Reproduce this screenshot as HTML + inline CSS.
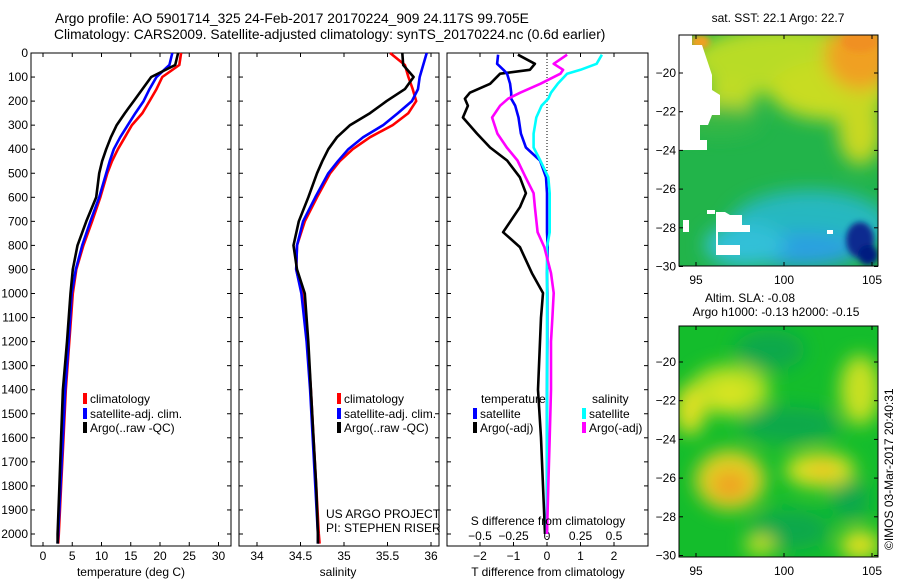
<!DOCTYPE html>
<html><head><meta charset="utf-8">
<style>
body{margin:0;background:#fff;}
svg{display:block;font-family:"Liberation Sans",sans-serif;font-size:12px;}
</style></head>
<body>
<svg id="chart" width="900" height="580" viewBox="0 0 900 580" xmlns="http://www.w3.org/2000/svg">
<defs>
<filter id="blur" x="-50%" y="-50%" width="200%" height="200%"><feGaussianBlur stdDeviation="9"/></filter>
<filter id="blur2" x="-50%" y="-50%" width="200%" height="200%"><feGaussianBlur stdDeviation="3"/></filter>
<clipPath id="clipSST"><rect x="679" y="35" width="199" height="231"/></clipPath>
<clipPath id="clipSLA"><rect x="679" y="326" width="199" height="231"/></clipPath>
</defs>
<text x="55" y="23" font-size="13.8">Argo profile: AO 5901714_325 24-Feb-2017 20170224_909 24.117S 99.705E</text>
<text x="54" y="39" font-size="13.8">Climatology: CARS2009. Satellite-adjusted climatology: synTS_20170224.nc (0.6d earlier)</text>
<g id="plots"></g>

<!-- SST map -->
<text x="778" y="22" text-anchor="middle">sat. SST: 22.1 Argo: 22.7</text>
<g clip-path="url(#clipSST)">
<rect x="679" y="35" width="199" height="231" fill="#22b44a"/>
<g filter="url(#blur)">
<ellipse cx="790" cy="60" rx="100" ry="35" fill="#b8dc28"/>
<ellipse cx="830" cy="90" rx="60" ry="30" fill="#c8dc24"/>
<ellipse cx="860" cy="55" rx="35" ry="35" fill="#f0a024"/>
<ellipse cx="860" cy="130" rx="22" ry="35" fill="#c8d824"/>
<ellipse cx="730" cy="95" rx="25" ry="18" fill="#c0dc28"/>
<ellipse cx="810" cy="225" rx="80" ry="35" fill="#28b8c0"/>
<ellipse cx="800" cy="250" rx="60" ry="18" fill="#2aa0e0"/>
<ellipse cx="745" cy="245" rx="40" ry="22" fill="#30c0d8"/>
<ellipse cx="720" cy="120" rx="40" ry="15" fill="#38b844"/>
</g>
<g filter="url(#blur2)">
<ellipse cx="860" cy="240" rx="14" ry="18" fill="#0a2a90"/>
<ellipse cx="868" cy="255" rx="10" ry="10" fill="#001a80"/>
<ellipse cx="700" cy="42" rx="10" ry="7" fill="#f0a020"/>
<ellipse cx="860" cy="42" rx="18" ry="10" fill="#f09020"/>
</g>
<path d="M679,35 L692,35 L692,45 L702,45 L712,75 L712,90 L720,95 L720,115 L712,115 L708,125 L700,125 L700,140 L692,140 L690,150 L679,150 Z" fill="#fff"/>
<rect x="679" y="140" width="28" height="10" fill="#fff"/>
<path d="M716,212 L725,212 L730,215 L742,215 L742,225 L750,225 L750,232 L718,232 L718,245 L740,245 L740,255 L716,255 Z" fill="#fff"/>
<rect x="707" y="210" width="8" height="4" fill="#fff"/>
<rect x="683" y="220" width="6" height="12" fill="#fff"/>
<rect x="827" y="230" width="6" height="4" fill="#fff"/>
</g>
<rect x="679" y="35" width="199" height="231" fill="none" stroke="#000" stroke-width="1"/>
<g id="sstAxes"></g>

<!-- SLA map -->
<text x="750" y="302" text-anchor="middle">Altim. SLA: -0.08</text>
<text x="776" y="316" text-anchor="middle">Argo h1000: -0.13 h2000: -0.15</text>
<g clip-path="url(#clipSLA)">
<rect x="679" y="326" width="199" height="231" fill="#14bd2c"/>
<g filter="url(#blur)">
<ellipse cx="730" cy="390" rx="40" ry="25" fill="#b8e020"/>
<ellipse cx="730" cy="395" rx="20" ry="15" fill="#d8e420"/>
<ellipse cx="690" cy="410" rx="15" ry="25" fill="#e0e020"/>
<ellipse cx="860" cy="390" rx="20" ry="35" fill="#c8e020"/>
<ellipse cx="730" cy="480" rx="35" ry="30" fill="#e0d020"/>
<ellipse cx="730" cy="485" rx="18" ry="14" fill="#f0a020"/>
<ellipse cx="820" cy="470" rx="35" ry="18" fill="#d8e020"/>
<ellipse cx="822" cy="470" rx="14" ry="8" fill="#f0c020"/>
<ellipse cx="770" cy="350" rx="35" ry="20" fill="#10a84c"/>
<ellipse cx="790" cy="425" rx="50" ry="18" fill="#10a84c"/>
<ellipse cx="790" cy="530" rx="40" ry="20" fill="#10a84c"/>
<ellipse cx="850" cy="500" rx="20" ry="20" fill="#10a84c"/>
<ellipse cx="860" cy="545" rx="20" ry="15" fill="#e0e020"/>
<ellipse cx="760" cy="545" rx="15" ry="10" fill="#c8e020"/>
</g>
</g>
<rect x="679" y="326" width="199" height="231" fill="none" stroke="#000" stroke-width="1"/>
<g id="slaAxes"></g>
<text transform="translate(893,550) rotate(-90)" font-size="12">©IMOS 03-Mar-2017 20:40:31</text>
</svg>
<script>
const depths = [0,50,100,150,200,250,300,350,400,450,500,600,700,800,900,1000,1200,1400,1600,1800,2000,2040];
const tempClim = [23.6,23.3,20.4,19.4,18.2,17.0,15.2,14.0,12.8,11.8,11.0,9.8,8.4,6.9,5.7,5.1,4.5,3.9,3.5,3.1,2.7,2.6];
const tempSat  = [22.1,21.6,19.4,18.2,17.2,15.8,14.5,13.2,12.1,11.4,10.8,9.6,8.1,6.7,5.6,4.9,4.4,3.8,3.4,3.0,2.6,2.5];
const tempArgo = [23.1,22.6,18.5,17.0,15.5,14.0,12.6,11.6,10.8,10.1,9.6,9.1,7.4,5.9,5.1,4.7,4.1,3.4,3.1,2.8,2.5,2.5];
const salClim = [35.53,35.70,35.74,35.79,35.83,35.74,35.56,35.30,35.10,34.95,34.84,34.69,34.55,34.46,34.45,34.52,34.58,34.62,34.65,34.68,34.71,34.72];
const salSat  = [35.95,35.91,35.87,35.85,35.78,35.62,35.45,35.22,35.05,34.93,34.82,34.67,34.53,34.46,34.45,34.51,34.57,34.61,34.64,34.67,34.70,34.70];
const salArgo = [35.67,35.68,35.80,35.70,35.49,35.30,35.07,34.92,34.82,34.75,34.69,34.59,34.48,34.42,34.46,34.55,34.59,34.62,34.65,34.68,34.70,34.70];
const diffDepths = [7,45,70,86,128,165,190,219,268,335,393,447,517,583,641,745,807,915,998,1100,1200,1400,1600,1800,2000];
const dTArgo = [-0.87,-0.36,-0.51,-1.40,-1.70,-2.30,-2.45,-2.36,-2.51,-2.09,-1.70,-1.19,-0.81,-0.63,-0.81,-1.31,-0.81,-0.45,-0.12,-0.18,-0.21,-0.27,-0.18,-0.12,-0.06];
const dTSat  = [-1.46,-1.49,-1.30,-1.19,-1.10,-1.07,-1.07,-0.95,-0.85,-0.78,-0.63,-0.21,-0.03,0.0,0.0,0.0,0.02,0.0,0.01,0.01,0.01,0.0,0.0,0.0,0.0];
const dSSat  = [0.41,0.37,0.25,0.15,0.08,0.03,0.01,-0.04,-0.08,-0.10,-0.10,-0.05,0.01,0.02,0.02,0.02,0.0,0.0,0.0,0.0,0.0,0.0,0.0,0.0,0.0];
const dSArgo = [0.15,0.05,0.12,0.10,-0.05,-0.20,-0.29,-0.35,-0.41,-0.37,-0.30,-0.22,-0.16,-0.10,-0.09,-0.07,-0.02,0.03,0.05,0.04,0.03,0.03,0.02,0.01,0.0];
const depthTicks = [0,100,200,300,400,500,600,700,800,900,1000,1100,1200,1300,1400,1500,1600,1700,1800,1900,2000];
const tempTicks = [0,5,10,15,20,25,30];
const salTicks = [34,34.5,35,35.5,36];
const salTickLabels = ['34','34.5','35','35.5','36'];
const dTTicks = [-2,-1,0,1,2];
const dSTicks = [-0.5,-0.25,0,0.25,0.5];
const dSTickLabels = ['\u22120.5','\u22120.25','0','0.25','0.5'];
const latTicks = [-20,-22,-24,-26,-28,-30];
const lonTicks = [95,100,105];

const NS='http://www.w3.org/2000/svg';
const root=document.getElementById('plots');
function mk(tag,attrs,parent){const e=document.createElementNS(NS,tag);for(const k in attrs)e.setAttribute(k,attrs[k]);(parent||root).appendChild(e);return e;}
const yD = d => 53 + d*0.2405;
const PT={l:31,r:231}, PS={l:239,r:439}, PD={l:447,r:648};
const TOP=53, BOT=546;
const xT = t => 43 + t*5.85;
const xS = s => 257 + (s-34)*87;
const xDT = v => 547 + v*33.5;
const xDS = v => 547 + v*134;

function frame(p,name){
  const r=mk('rect',{x:p.l,y:TOP,width:p.r-p.l,height:BOT-TOP,fill:'none',stroke:'#000','stroke-width':1});
  
  
}
frame(PT,'temperature-panel-frame');frame(PS,'salinity-panel-frame');frame(PD,'difference-panel-frame');

depthTicks.forEach(d=>{
  const y=yD(d);
  [PT,PS,PD].forEach(p=>{
    mk('line',{x1:p.l,x2:p.l+4,y1:y,y2:y,stroke:'#000'});
    mk('line',{x1:p.r-4,x2:p.r,y1:y,y2:y,stroke:'#000'});
  });
  const t=mk('text',{x:28,y:y+4,'text-anchor':'end'});
  
  
  t.textContent=d;
});
function xticks(vals,labels,fx,p,name,labY){
  vals.forEach((v,i)=>{
    const x=fx(v);
    mk('line',{x1:x,x2:x,y1:BOT,y2:BOT-4,stroke:'#000'});
    mk('line',{x1:x,x2:x,y1:TOP,y2:TOP+4,stroke:'#000'});
    const t=mk('text',{x:x,y:labY,'text-anchor':'middle'});
    
    
    t.textContent=labels[i];
  });
}
xticks(tempTicks,tempTicks.map(String),xT,PT,'temperature-tick-label',560);
xticks(salTicks,salTickLabels,xS,PS,'salinity-tick-label',560);
xticks(dTTicks,dTTicks.map(v=>v<0?'\u2212'+(-v):String(v)),xDT,PD,'t-diff-tick-label',560);
dSTicks.forEach((v,i)=>{
  const t=mk('text',{x:xDS(v),y:540,'text-anchor':'middle'});
  
  
  t.textContent=dSTickLabels[i];
});
const zl=mk('line',{x1:xDT(0),x2:xDT(0),y1:TOP,y2:BOT,stroke:'#000','stroke-dasharray':'1,2'});



function series(xs,ds,fx,color,name){
  const pts=xs.map((v,i)=>fx(v).toFixed(1)+','+yD(ds[i]).toFixed(1)).join(' ');
  const pl=mk('polyline',{points:pts,fill:'none',stroke:color,'stroke-width':2.6,'stroke-linejoin':'round'});
  
  
}
series(tempClim,depths,xT,'#f00','temperature-climatology-line');
series(tempSat,depths,xT,'#00f','temperature-satellite-line');
series(tempArgo,depths,xT,'#000','temperature-argo-line');
series(salClim,depths,xS,'#f00','salinity-climatology-line');
series(salSat,depths,xS,'#00f','salinity-satellite-line');
series(salArgo,depths,xS,'#000','salinity-argo-line');
series(dTArgo,diffDepths,xDT,'#000','t-diff-argo-line');
series(dTSat,diffDepths,xDT,'#00f','t-diff-satellite-line');
series(dSSat,diffDepths,xDS,'#0ff','s-diff-satellite-line');
series(dSArgo,diffDepths,xDS,'#f0f','s-diff-argo-line');

function txt(x,y,s,name,anchor){const t=mk('text',{x:x,y:y,'text-anchor':anchor||'start'});t.textContent=s;return t;}
function legend(x,y,color,label,name){
  const r=mk('rect',{x:x,y:y-10,width:4,height:11,fill:color});
  
  
  txt(x+7,y,label,name);
}
legend(83,403,'#f00','climatology','legend-climatology');
legend(83,418,'#00f','satellite-adj. clim.','legend-satellite-adj');
legend(83,432,'#000','Argo(..raw -QC)','legend-argo');
legend(337,403,'#f00','climatology','legend2-climatology');
legend(337,418,'#00f','satellite-adj. clim.','legend2-satellite-adj');
legend(337,432,'#000','Argo(..raw -QC)','legend2-argo');
txt(481,403,'temperature','legend-temperature-heading');
txt(592,403,'salinity','legend-salinity-heading');
legend(473,418,'#00f','satellite','legend-t-satellite');
legend(473,432,'#000','Argo(-adj)','legend-t-argo');
legend(582,418,'#0ff','satellite','legend-s-satellite');
legend(582,432,'#f0f','Argo(-adj)','legend-s-argo');
txt(326,518,'US ARGO PROJECT','project-credit');
txt(326,532,'PI: STEPHEN RISER','pi-credit');
txt(548,525,'S difference from climatology','s-diff-axis-title','middle');
txt(131,576,'temperature (deg C)','temperature-axis-title','middle');
txt(338,576,'salinity','salinity-axis-title','middle');
txt(548,576,'T difference from climatology','t-diff-axis-title','middle');

const xLon = v => 696 + (v-95)*17.6;
function mapAxes(top,lat20,gname,labY){
  const g=document.getElementById(gname);
  latTicks.forEach(l=>{
    const y=lat20+(-20-l)*19.35;
    mk('line',{x1:679,x2:683,y1:y,y2:y,stroke:'#000'},g);
    mk('line',{x1:874,x2:878,y1:y,y2:y,stroke:'#000'},g);
    const t=mk('text',{x:676,y:y+4,'text-anchor':'end'},g);
    
    
    t.textContent='\u2212'+(-l);
  });
  lonTicks.forEach(v=>{
    const x=xLon(v);
    mk('line',{x1:x,x2:x,y1:top,y2:top+4,stroke:'#000'},g);
    mk('line',{x1:x,x2:x,y1:top+231,y2:top+227,stroke:'#000'},g);
    const t=mk('text',{x:x,y:labY,'text-anchor':'middle'},g);
    
    
    t.textContent=v;
  });
}
mapAxes(35,73,'sstAxes',284);
mapAxes(326,362,'slaAxes',575);
</script>
</body></html>
